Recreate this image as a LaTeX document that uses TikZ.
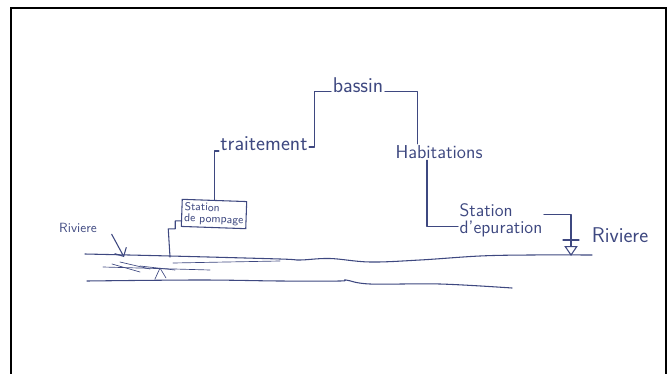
\documentclass[tikz,border=0pt]{standalone}
\usepackage{fontspec}
\usetikzlibrary{arrows.meta}

\definecolor{ink}{RGB}{62,72,128}

% Handwriting-like lettering
\newcommand{\handsize}[3]{\sffamily\fontsize{#1}{#2}\selectfont\addfontfeatures{LetterSpace=#3}}

\begin{document}
\begin{tikzpicture}[
    x=0.75pt, y=-0.75pt,
    % Define pen style
    pen/.style={draw=ink, line width=0.8pt, line cap=round, line join=round},
    % Define label styles
    lbl/.style={text=ink, font=\handsize{16}{16}{8}, inner sep=1pt},
    small lbl/.style={lbl, font=\handsize{10}{10}{4}},
    boxed/.style={lbl, font=\handsize{8.5}{8.5}{0}, draw=ink, line width=0.8pt, align=left, inner sep=2pt}
]

\useasboundingbox (0,0) rectangle (670,374);

% Paper frame (open at the bottom)
\draw[line width=1.4pt] (11,374) -- (11,8) -- (666,8) -- (666,374);

% Labels
\node[lbl, anchor=base] (bassin) at (358,93) {bassin};
\node[lbl, anchor=base, font=\handsize{16}{16}{10}] (traitement) at (264,151) {traitement};
\node[lbl, font=\handsize{14}{14}{6}] (habitations) at (439,152) {Habitations};
\node[boxed, rotate=-2] (pompage) at (214,214) {Station\\de pompage};
\node[lbl, align=left, font=\handsize{13.5}{13}{8}] (epuration) at (501,220) {Station\\d'epuration};
\node[lbl, font=\handsize{16}{16}{18}] (riviereD) at (620,235) {Riviere};
\node[small lbl] (riviereG) at (78,228) {Riviere};

% Points on the river
\coordinate (prise) at (124,257);
\coordinate (pompe) at (170,257);
\coordinate (sortie) at (571,256);

% Water path
\draw[pen] (pompage.north) |- (traitement.base west);
\draw[pen] ([yshift=3pt]traitement.base east) -- ++(5,0) |- ([yshift=1pt]bassin.base west);
\draw[pen] ([yshift=1pt]bassin.base east) -| ([xshift=-16pt]habitations.north);
\draw[pen] ([xshift=-9pt]habitations.south) |- ([yshift=-5pt]epuration.west);
\draw[pen, -{Triangle[open, length=7.5pt, width=10pt]}] ([yshift=4pt]epuration.east) -| (sortie);
\draw[pen] (563,240) -- (579,240);

% Intake from the river
\draw[pen] ([yshift=-6pt]pompage.west) -- ++(-6,0) -- ++(0,8) -- ++(-7,0) -- (pompe);
\draw[pen, -{Straight Barb[length=5pt]}] ([xshift=10pt]riviereG.south east) -- (prise);

% River banks
\draw[pen] plot[smooth, tension=0.6] coordinates {(85,254) (170,256) (280,259) (300,260) (330,258.5) (370,262) (420,260) (480,256) (530,255) (592,255)};
\draw[pen] plot[smooth, tension=0.6] coordinates {(87,281) (200,280) (280,281) (340,281) (346,280) (370,284) (440,284) (512,288)};

% Current scribbles
\draw[pen, line width=0.5pt] (103,267) -- (210,270);
\draw[pen, line width=0.5pt] (173,263) -- (280,261);
\draw[pen, line width=0.5pt] (112,264) -- (140,272);
\draw[pen, line width=0.5pt] (120,262) -- (150,269);
\draw[pen, line width=0.5pt] (140,266) -- (175,270);
\draw[pen, line width=0.5pt] (155,279) -- (160,268) -- (166,278);

\end{tikzpicture}
\end{document}
